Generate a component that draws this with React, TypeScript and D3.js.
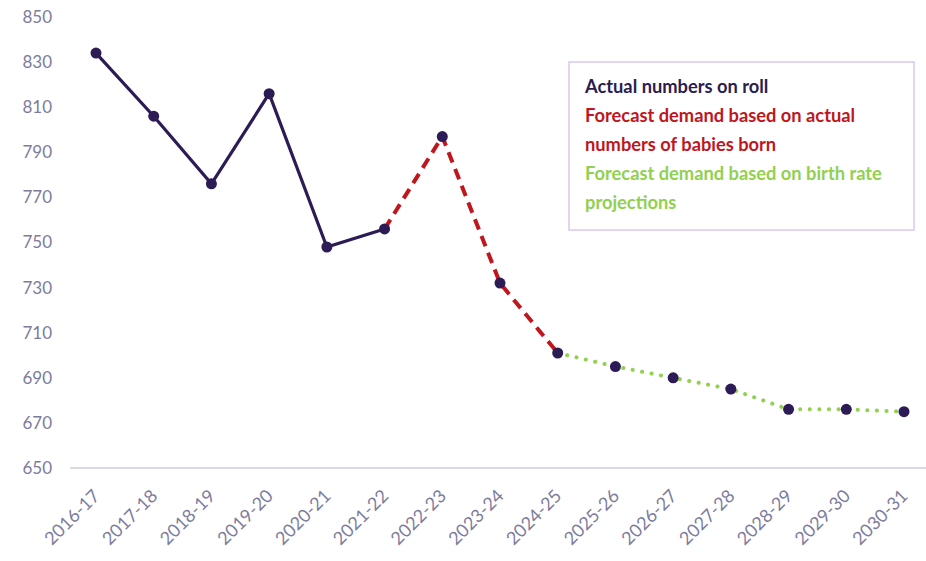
import React from "react";
import * as d3 from "d3";

const years = ["2016-17","2017-18","2018-19","2019-20","2020-21","2021-22","2022-23","2023-24","2024-25","2025-26","2026-27","2027-28","2028-29","2029-30","2030-31"];
const actual = [834, 806, 776, 816, 748, 756];
const forecastBorn = [797, 732, 701];
const forecastRate = [695, 690, 685, 676, 676, 675];
const yTicks = [650, 670, 690, 710, 730, 750, 770, 790, 810, 830, 850];
const legendLines = [
  { text: "Actual numbers on roll", color: "#2b1d4f" },
  { text: "Forecast demand based on actual", color: "#c0161e" },
  { text: "numbers of babies born", color: "#c0161e" },
  { text: "Forecast demand based on birth rate", color: "#92d050" },
  { text: "projections", color: "#92d050" },
];

const W = 926, H = 561;
const NAVY = "#2d1b55";
const FONT = "Lato, 'Open Sans', sans-serif";

export default function App() {
  const x = d3.scalePoint<string>().domain(years).range([96, 904]);
  const y = d3.scaleLinear().domain([650, 850]).range([468, 17]);

  const actualPts = actual.map((v, i) => ({ k: years[i], v }));
  const bornPts = [actualPts[actualPts.length - 1]].concat(
    forecastBorn.map((v, i) => ({ k: years[actual.length + i], v }))
  );
  const ratePts = [bornPts[bornPts.length - 1]].concat(
    forecastRate.map((v, i) => ({ k: years[actual.length + forecastBorn.length + i], v }))
  );
  const line = d3.line<{ k: string; v: number }>().x(d => x(d.k)!).y(d => y(d.v));
  const allPts = actualPts.concat(bornPts.slice(1), ratePts.slice(1));

  return (
    <svg width={W} height={H} style={{ position: "absolute", left: 0, top: 0, background: "#fff" }} fontFamily={FONT}>
      {yTicks.map(t => (
        <text key={t} x={52} y={y(t)} dy="0.35em" textAnchor="end" fontSize={17} fill="#7d7c9c">{t}</text>
      ))}
      <line x1={70} x2={926} y1={y(650)} y2={y(650)} stroke="#dcd8e4" strokeWidth={2} />
      {years.map(k => (
        <text key={k} transform={`translate(${x(k)! + 5},${497}) rotate(-45)`} textAnchor="end" fontSize={18} fill="#7d7c9c">{k}</text>
      ))}
      <path d={line(ratePts)!} fill="none" stroke="#92d050" strokeWidth={4} strokeDasharray="0.1 9.5" strokeLinecap="round" />
      <path d={line(bornPts)!} fill="none" stroke="#c0161e" strokeWidth={4} strokeDasharray="11 7" />
      <path d={line(actualPts)!} fill="none" stroke={NAVY} strokeWidth={3.2} />
      {allPts.map(p => (
        <circle key={p.k} cx={x(p.k)} cy={y(p.v)} r={5.5} fill={NAVY} />
      ))}
      <rect x={569} y={62} width={345} height={168} fill="#fff" stroke="#dac8ea" strokeWidth={1.5} />
      {legendLines.map((l, i) => (
        <text key={i} x={585} y={93 + i * 29} fontSize={18.3} fontWeight={700} fill={l.color}>{l.text}</text>
      ))}
    </svg>
  );
}
